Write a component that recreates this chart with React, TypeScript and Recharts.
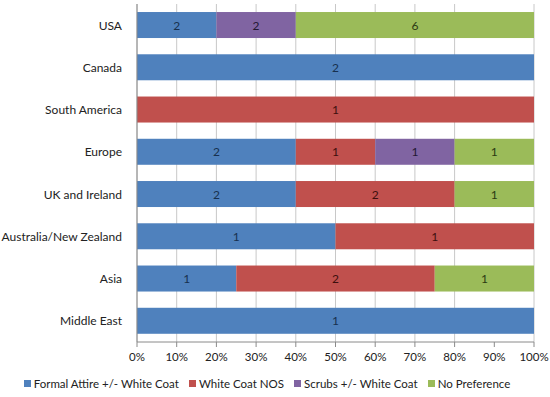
import React from "react"
import { BarChart, Bar, XAxis, YAxis, CartesianGrid, Legend } from "recharts"

const regions = [
  "USA",
  "Canada",
  "South America",
  "Europe",
  "UK and Ireland",
  "Australia/New Zealand",
  "Asia",
  "Middle East",
]
const formal = [2, 2, 0, 2, 2, 1, 1, 1]
const whiteCoat = [0, 0, 1, 1, 2, 1, 2, 0]
const scrubs = [2, 0, 0, 1, 0, 0, 0, 0]
const noPref = [6, 0, 0, 1, 1, 0, 1, 0]
const xTicks = [0, 0.1, 0.2, 0.3, 0.4, 0.5, 0.6, 0.7, 0.8, 0.9, 1]

const series = [
  { key: "formal", name: "Formal Attire +/- White Coat", fill: "#4F81BD", text: "#17304f" },
  { key: "white", name: "White Coat NOS", fill: "#C0504D", text: "#3d0f0d" },
  { key: "scrubs", name: "Scrubs +/- White Coat", fill: "#8064A2", text: "#231833" },
  { key: "nopref", name: "No Preference", fill: "#9BBB59", text: "#2c3a12" },
]

const data = regions.map((r, i) => ({
  region: r,
  formal: formal[i],
  white: whiteCoat[i],
  scrubs: scrubs[i],
  nopref: noPref[i],
}))

const font = "Lato, 'Open Sans', sans-serif"

const makeShape = (key: string, fill: string, textColor: string) => (p: any) => {
  const v = p.payload ? p.payload[key] : 0
  if (!v || !p.width) return <g />
  return (
    <g>
      <rect x={p.x} y={p.y} width={p.width} height={p.height} fill={fill} />
      <text
        x={p.x + p.width / 2}
        y={p.y + p.height / 2}
        textAnchor="middle"
        dominantBaseline="central"
        fontSize={12}
        fontFamily={font}
        fill={textColor}
      >
        {v}
      </text>
    </g>
  )
}

const RegionTick = (p: any) => (
  <text x={p.x} y={p.y} textAnchor="end" dominantBaseline="central" fontSize={12} fontFamily={font} fill="#222">
    {p.payload.value}
  </text>
)

const LegendBox = () => (
  <div
    style={{
      display: "flex",
      justifyContent: "center",
      gap: 10,
      paddingTop: 6,
      fontSize: 11.5,
      fontFamily: font,
      color: "#222",
    }}
  >
    {series.map((s) => (
      <span key={s.key} style={{ display: "flex", alignItems: "center" }}>
        <span style={{ display: "inline-block", width: 7, height: 7, background: s.fill, marginRight: 3 }} />
        {s.name}
      </span>
    ))}
  </div>
)

export default function App() {
  return (
    <div style={{ position: "fixed", left: 0, top: 0, width: 550, height: 397, background: "#fff", fontFamily: font }}>
      <BarChart
        width={550}
        height={397}
        data={data}
        layout="vertical"
        stackOffset="expand"
        barCategoryGap="19%"
        margin={{ top: 4, right: 16, left: 0, bottom: 0 }}
      >
        <CartesianGrid horizontal={false} stroke="#c8c8c8" />
        <XAxis
          type="number"
          domain={[0, 1]}
          ticks={xTicks}
          tickFormatter={(v: number) => `${Math.round(v * 100)}%`}
          tick={{ fontSize: 11.5, fill: "#222", fontFamily: font }}
          stroke="#8a8a8a"
          tickSize={5}
          tickMargin={6}
          height={29}
        />
        <YAxis
          type="category"
          dataKey="region"
          width={137}
          tick={<RegionTick />}
          stroke="#8a8a8a"
          tickLine={false}
          tickMargin={9}
        />
        <Legend verticalAlign="bottom" height={26} content={() => <LegendBox />} />
        {series.map((s) => (
          <Bar
            key={s.key}
            dataKey={s.key}
            name={s.name}
            stackId="a"
            fill={s.fill}
            isAnimationActive={false}
            shape={makeShape(s.key, s.fill, s.text)}
          />
        ))}
      </BarChart>
    </div>
  )
}
